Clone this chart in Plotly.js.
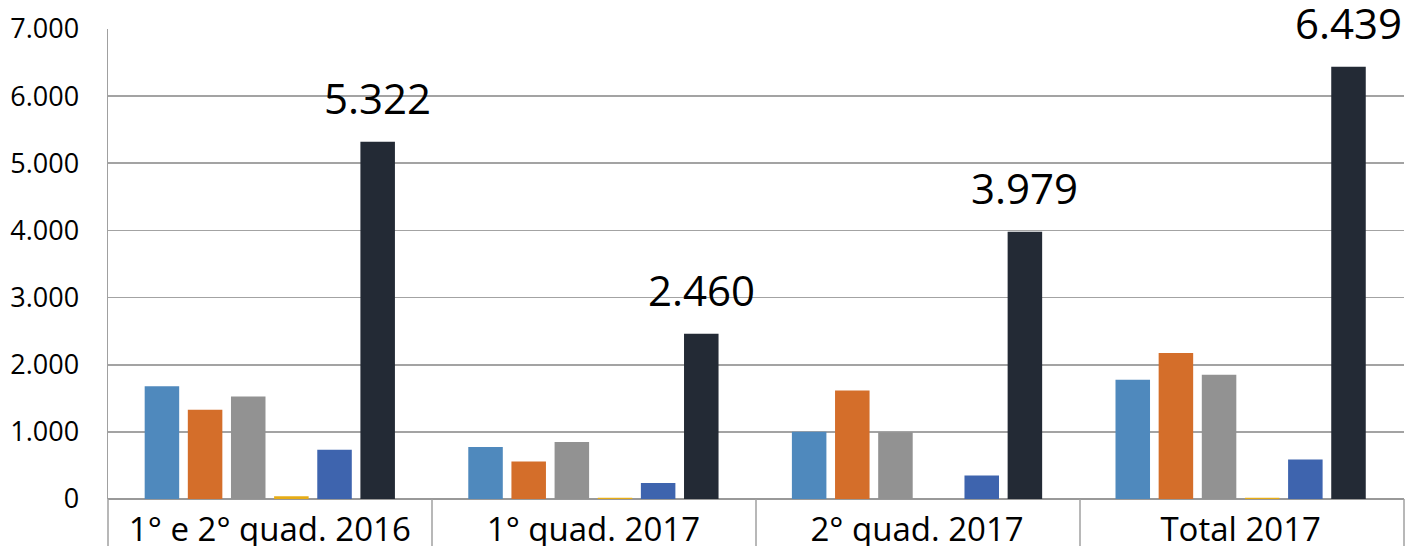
<!DOCTYPE html>
<html>
<head>
<meta charset="utf-8">
<script src="https://cdn.plot.ly/plotly-3.0.1.min.js"></script>
<style>
html, body { margin: 0; padding: 0; background: #ffffff; }
#chart { width: 1406px; height: 546px; }
</style>
</head>
<body>
<div id="chart"></div>
<script>
const categories = ["1° e 2° quad. 2016", "1° quad. 2017", "2° quad. 2017", "Total 2017"];
const seriesA = [1680, 775, 1000, 1775];
const seriesB = [1330, 560, 1615, 2175];
const seriesC = [1525, 850, 995, 1850];
const seriesD = [40, 20, 0, 20];
const seriesE = [735, 240, 350, 590];
const seriesTotal = [5322, 2460, 3979, 6439];
const totalLabels = ["5.322", "2.460", "3.979", "6.439"];
const yTickVals = [0, 1000, 2000, 3000, 4000, 5000, 6000, 7000];
const yTickText = ["0", "1.000", "2.000", "3.000", "4.000", "5.000", "6.000", "7.000"];

const colors = ["#4F89BD", "#D46E2A", "#929292", "#E6AC16", "#3E64AE", "#232A35"];
const allSeries = [seriesA, seriesB, seriesC, seriesD, seriesE, seriesTotal];
const nSeries = allSeries.length;
const bargap = 0.2;

const traces = allSeries.map((vals, i) => ({
  type: "bar",
  x: categories,
  y: vals,
  marker: { color: colors[i], line: { width: 0 } },
  hoverinfo: "x+y",
  cliponaxis: false
}));

// label the last (total) series of each group, centred on its bar
const slot = (1 - bargap) / nSeries;
const lastOffset = (nSeries - 1 - (nSeries - 1) / 2) * slot;
const annotations = seriesTotal.map((v, i) => ({
  x: i + lastOffset,
  y: v,
  xref: "x", yref: "y",
  text: totalLabels[i],
  showarrow: false,
  yanchor: "bottom",
  xanchor: "center",
  yshift: 14,
  font: { family: "Open Sans, sans-serif", size: 42, color: "#000000" }
}));

const seps = [0, 0.25, 0.5, 0.75, 1.0].map(p => ({
  type: "line", xref: "paper", yref: "paper",
  x0: p, x1: p, y0: 0, y1: -0.2,
  line: { color: "#a0a0a0", width: 1.5 }
}));

const layout = {
  width: 1406, height: 546,
  margin: { l: 108, r: 2, t: 29, b: 47 },
  paper_bgcolor: "#ffffff",
  plot_bgcolor: "#ffffff",
  showlegend: false,
  barmode: "group",
  bargap: bargap,
  bargroupgap: 0.2,
  font: { family: "Open Sans, sans-serif", color: "#000000" },
  xaxis: {
    type: "category",
    showgrid: false,
    showline: false,
    zeroline: false,
    ticks: "",
    automargin: false,
    tickfont: { family: "Open Sans, sans-serif", size: 33, color: "#000000" },
    ticklabelstandoff: 8
  },
  yaxis: {
    range: [0, 7000],
    tickvals: yTickVals,
    ticktext: yTickText,
    showgrid: true,
    gridcolor: "#a3a3a3",
    gridwidth: 1.8,
    zeroline: true,
    zerolinecolor: "#999999",
    zerolinewidth: 2,
    showline: true,
    linecolor: "#a0a0a0",
    linewidth: 1.5,
    ticks: "",
    automargin: false,
    ticklabelstandoff: 22,
    tickfont: { family: "Open Sans, sans-serif", size: 27, color: "#000000" }
  },
  annotations: annotations,
  shapes: seps
};

Plotly.newPlot("chart", traces, layout, { displayModeBar: false, staticPlot: true });
</script>
</body>
</html>
